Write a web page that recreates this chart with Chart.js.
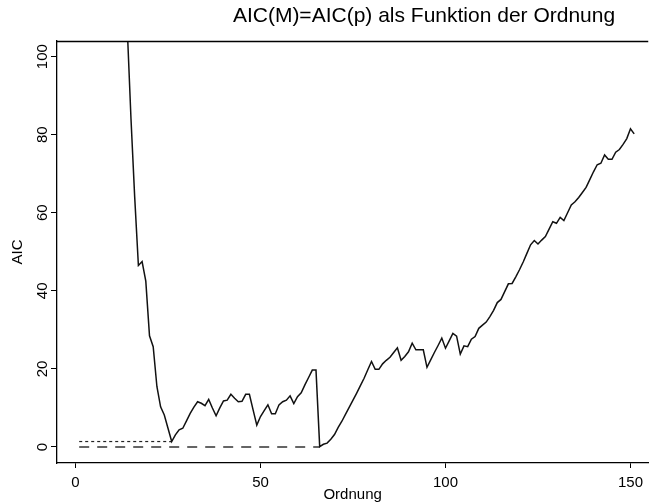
<!DOCTYPE html>
<html>
<head>
<meta charset="utf-8">
<script src="https://cdn.jsdelivr.net/npm/chart.js@4/dist/chart.umd.min.js"></script>
<style>
  html, body { margin: 0; padding: 0; background: #fff; }
  #wrap { width: 649px; height: 504px; position: relative; }
</style>
</head>
<body>
<div id="wrap"><canvas id="c" width="649" height="504"></canvas></div>
<script>
// ---- data ----
const chartTitle = "AIC(M)=AIC(p) als Funktion der Ordnung";
const xTitle = "Ordnung";
const yTitle = "AIC";
const xTicks = [0, 50, 100, 150];
const yTicks = [0, 20, 40, 60, 80, 100];

// orders (model order p) and AIC values
const orders = [];
for (let p = 14; p <= 151; p++) orders.push(p);
const aic = [
  107, 84, 64, 46.5, 47.5, 42.5, 28.5, 25.7, 15.5, 10.3,      // 14-23
  8.2, 4.8, 1.4, 3.1, 4.4, 4.8, 6.7, 8.6, 10.2, 11.6,         // 24-33
  11.2, 10.6, 12.2, 10.0, 8.0, 10.0, 11.8, 12.0, 13.5, 12.5,  // 34-43
  11.6, 11.7, 13.5, 13.5, 9.5, 5.6, 7.8, 9.3, 10.8, 8.5,      // 44-53
  8.5, 10.8, 11.6, 12.0, 13.1, 11.1, 12.9, 13.9, 15.9, 17.8,  // 54-63
  19.7, 19.7, 0.1, 0.7, 1.0, 2.0, 3.2, 5.0, 6.6, 8.4,         // 64-73
  10.2, 12.0, 13.8, 15.7, 17.6, 19.8, 21.9, 19.9, 19.9, 21.3, // 74-83
  22.2, 23.0, 24.2, 25.4, 22.2, 23.2, 24.4, 26.6, 24.9, 24.9, // 84-93
  24.9, 20.4, 22.3, 24.2, 26.0, 27.9, 25.3, 27.2, 29.1, 28.4, // 94-103
  23.8, 25.9, 25.7, 27.6, 28.3, 30.4, 31.2, 32.0, 33.4, 35.0, // 104-113
  37.0, 37.8, 39.8, 41.8, 41.9, 43.6, 45.4, 47.4, 49.6, 51.8, // 114-123
  52.9, 52.0, 53.0, 53.9, 55.8, 57.7, 57.3, 58.8, 58.0, 60.0, // 124-133
  62.0, 62.8, 63.9, 65.2, 66.5, 68.5, 70.5, 72.3, 72.7, 74.8, // 134-143
  73.7, 73.7, 75.5, 76.2, 77.5, 79.0, 81.5, 80.2              // 144-151
];

// reference lines: dotted at AIC(min) from order 1 to argmin, dashed at 0 from 1 to 66
const dottedX = [1, 26];
const dottedY = [1.4, 1.4];
const dashedX = [1, 66];
const dashedY = [0, 0];

// ---- chart ----
const toPts = (xs, ys) => xs.map((x, i) => ({ x: x, y: ys[i] }));
const FONT = "'Liberation Sans', Arial, Helvetica, sans-serif";

const framePlugin = {
  id: 'frame',
  afterDraw(chart) {
    const { ctx, chartArea: a } = chart;
    ctx.save();
    // top frame line
    ctx.strokeStyle = '#000';
    ctx.lineWidth = 1.3;
    ctx.beginPath();
    ctx.moveTo(a.left, a.top + 0.5);
    ctx.lineTo(a.right, a.top + 0.5);
    ctx.stroke();
    // title
    ctx.fillStyle = '#000';
    ctx.font = '21px ' + FONT;
    ctx.textAlign = 'center';
    ctx.textBaseline = 'middle';
    ctx.fillText(chartTitle, 424, 16);
    // y tick labels, rotated
    const ys = chart.scales.y;
    ctx.font = '15px ' + FONT;
    yTicks.forEach(v => {
      const py = ys.getPixelForValue(v);
      ctx.save();
      ctx.translate(43, py);
      ctx.rotate(-Math.PI / 2);
      ctx.textAlign = 'center';
      ctx.textBaseline = 'middle';
      ctx.fillText(String(v), 0, 0);
      ctx.restore();
    });
    ctx.restore();
  }
};

new Chart(document.getElementById('c'), {
  type: 'scatter',
  data: {
    datasets: [
      {
        data: toPts(orders, aic),
        showLine: true,
        borderColor: '#111',
        borderWidth: 1.5,
        pointRadius: 0,
        tension: 0
      },
      {
        data: toPts(dottedX, dottedY),
        showLine: true,
        borderColor: '#222',
        borderWidth: 1.2,
        borderDash: [3, 3],
        pointRadius: 0
      },
      {
        data: toPts(dashedX, dashedY),
        showLine: true,
        borderColor: '#333',
        borderWidth: 1.3,
        borderDash: [10, 8],
        pointRadius: 0
      }
    ]
  },
  options: {
    responsive: false,
    animation: false,
    devicePixelRatio: 1,
    layout: { padding: { top: 41, left: 0, right: 0, bottom: 0 } },
    plugins: { legend: { display: false }, tooltip: { enabled: false }, title: { display: false } },
    scales: {
      x: {
        type: 'linear',
        min: -5,
        max: 154.8,
        afterBuildTicks: s => { s.ticks = xTicks.map(v => ({ value: v })); },
        afterFit: s => { s.height = 41; },
        grid: { display: true, drawOnChartArea: false, drawTicks: true, tickLength: 5, color: '#000', lineWidth: 1 },
        border: { display: true, color: '#000', width: 1.3 },
        ticks: { color: '#000', font: { family: FONT, size: 15 }, padding: 6, maxRotation: 0, minRotation: 0 },
        title: { display: true, text: xTitle, color: '#000', font: { family: FONT, size: 15 }, padding: { top: 0, bottom: 0 } }
      },
      y: {
        type: 'linear',
        min: -4.1,
        max: 104.0,
        afterBuildTicks: s => { s.ticks = yTicks.map(v => ({ value: v })); },
        afterFit: s => { s.width = 57; },
        grid: { display: true, drawOnChartArea: false, drawTicks: true, tickLength: 6, color: '#000', lineWidth: 1 },
        border: { display: true, color: '#000', width: 1.3 },
        ticks: { display: false },
        title: { display: true, text: yTitle, color: '#000', font: { family: FONT, size: 15 }, padding: { top: 9, bottom: 0 } }
      }
    }
  },
  plugins: [framePlugin]
});
</script>
</body>
</html>
